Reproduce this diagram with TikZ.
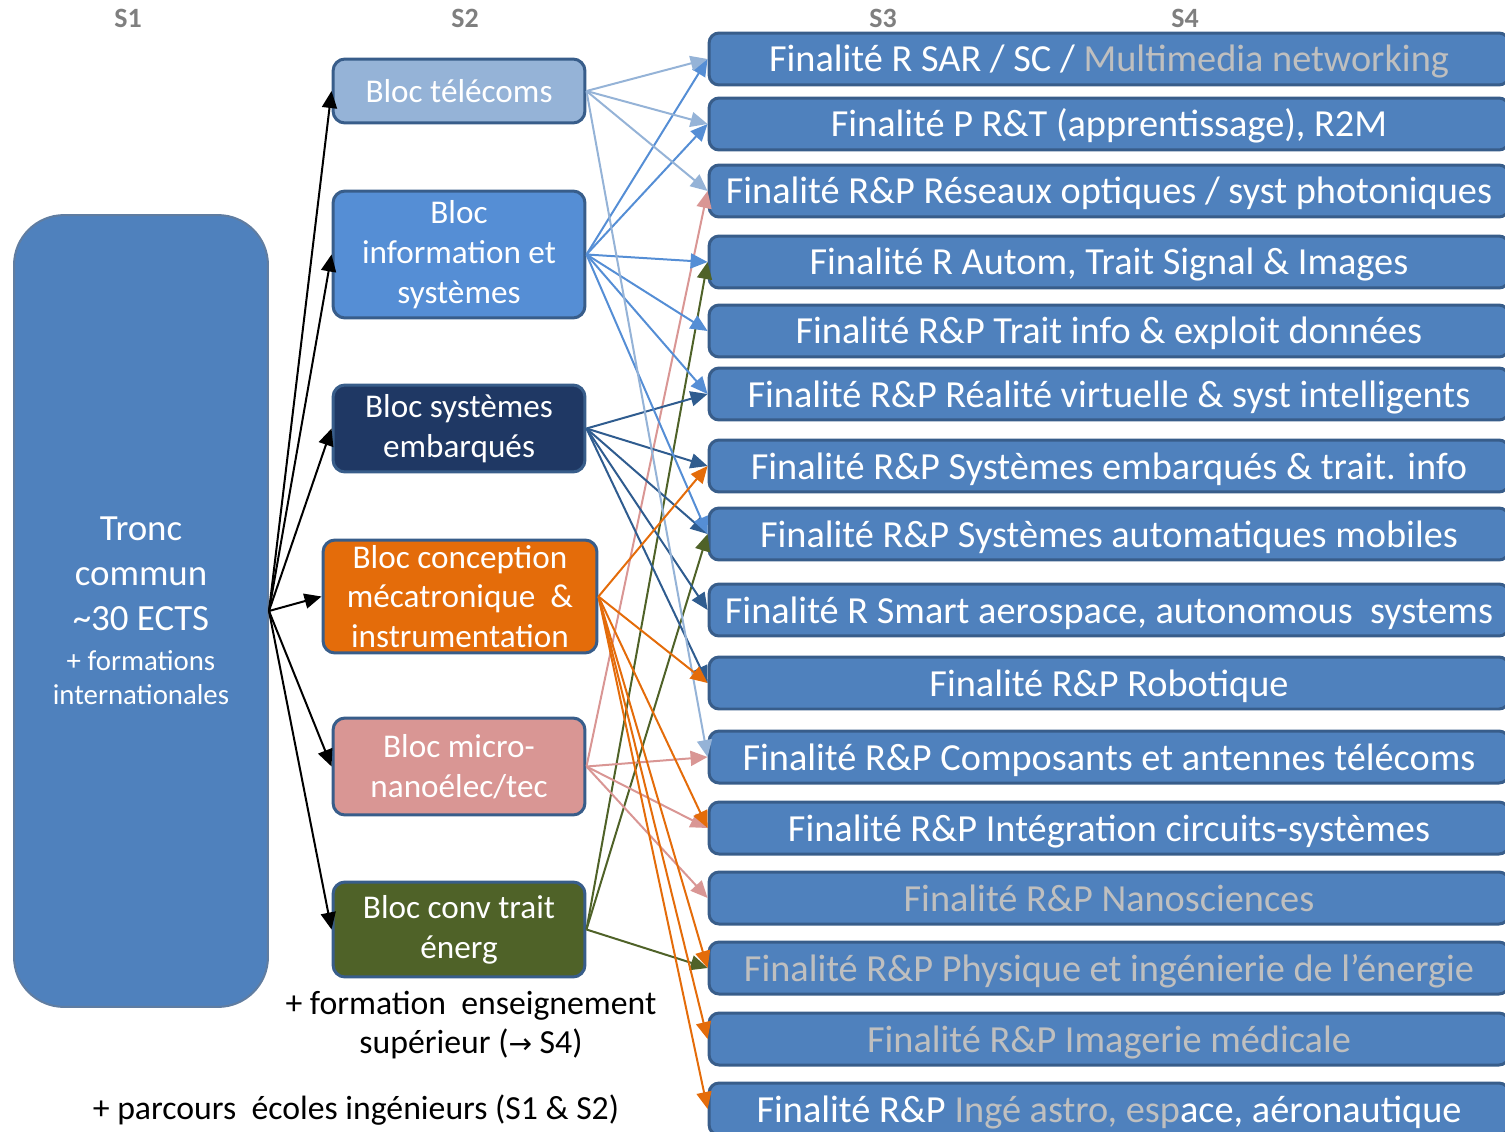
\documentclass[tikz,border=0pt]{standalone}
\usepackage{fontspec}
\setmainfont{Carlito}
\newfontfamily\flechefont{DejaVu Sans}
\usetikzlibrary{arrows.meta}

\definecolor{bleuF}{HTML}{4F81BD}
\definecolor{bordF}{HTML}{385D8A}
\definecolor{telecom}{HTML}{95B3D7}
\definecolor{info}{HTML}{558ED5}
\definecolor{embarq}{HTML}{1F3864}
\definecolor{embline}{HTML}{2F5C8F}
\definecolor{meca}{HTML}{E46C0A}
\definecolor{nano}{HTML}{D99694}
\definecolor{energ}{HTML}{4F6228}
\definecolor{grisT}{HTML}{BFBFBF}
\definecolor{grisS}{HTML}{7F7F7F}

\tikzset{
  bloc/.style={draw=bordF, line width=0.06cm, rounded corners=0.24cm, inner sep=0pt,
    text=white, align=center, font=\fontsize{18.9}{22.7}\selectfont},
  finalite/.style={draw=bordF, fill=bleuF, line width=0.06cm, rounded corners=0.2cm,
    inner sep=0pt, text=white, minimum width=16cm, minimum height=1.04cm,
    text height=0.56cm, text depth=0.04cm, font=\fontsize{21.8}{24}\selectfont},
  lien/.style={line width=0.04cm, -{Triangle[length=0.34cm,width=0.3cm]}},
  semestre/.style={text=grisS, font=\fontsize{15.9}{18}\selectfont\bfseries},
  legende/.style={align=center, font=\fontsize{19.2}{22.7}\selectfont}
}

\begin{document}
\begin{tikzpicture}[x=0.02cm, y=-0.02cm]
	\useasboundingbox (0,0) rectangle (1505,1132);
	\clip (0,0) rectangle (1505,1132);

	% semestres
	\node[semestre] (s1) at (128, 18) {S1};
	\node[semestre] (s2) at (465, 18) {S2};
	\node[semestre] (s3) at (883, 18) {S3};
	\node[semestre] (s4) at (1185, 18) {S4};

	% tronc commun
	\node[bloc, fill=bleuF, draw=bordF!80, line width=0.04cm, rounded corners=1cm,
		minimum width=5.08cm, minimum height=15.84cm, font=\fontsize{21}{25.5}\selectfont] (tronc) at (141, 611)
		{Tronc\\commun\\\textasciitilde30 ECTS\\[-2.8pt]{\fontsize{16.4}{20}\selectfont + formations}\\[-5.7pt]{\fontsize{16.4}{20}\selectfont internationales}};

	% blocs S2
	\node[bloc, fill=telecom, minimum width=5.04cm, minimum height=1.28cm] (telecoms) at (459, 91) {Bloc télécoms};
	\node[bloc, fill=info, minimum width=5.04cm, minimum height=2.54cm] (info) at (459, 254.5) {Bloc\\information et\\systèmes};
	\node[bloc, fill=embarq, minimum width=5.04cm, minimum height=1.74cm] (embarques) at (459, 428.5) {Bloc systèmes\\embarqués};
	\node[bloc, fill=meca, minimum width=5.48cm, minimum height=2.26cm] (meca) at (460, 596.5) {Bloc conception\\mécatronique \ \&\\instrumentation};
	\node[bloc, fill=nano, minimum width=5.04cm, minimum height=1.94cm] (nano) at (459, 766.5) {Bloc micro-\\nanoélec/tec};
	\node[bloc, fill=energ, minimum width=5.04cm, minimum height=1.9cm] (energ) at (459, 929.5) {Bloc conv trait\\énerg};

	\node[legende] (formation) at (471, 1025) {+ formation \ enseignement\\supérieur ({\flechefont\fontsize{16}{20}\selectfont →} S4)};
	\node[legende] (parcours) at (356, 1110) {+ parcours \ écoles ingénieurs (S1 \& S2)};

	% finalites S3 / S4
	\node[finalite] (sar) at (1109, 59) {Finalité R SAR / SC / \textcolor{grisT}{Multimedia networking}};
	\node[finalite] (rt) at (1109, 124) {Finalité P R\&T (apprentissage), R2M};
	\node[finalite] (optique) at (1109, 191) {Finalité R\&P Réseaux optiques / syst photoniques};
	\node[finalite] (autom) at (1109, 262) {Finalité R Autom, Trait Signal \& Images};
	\node[finalite] (traitinfo) at (1109, 331) {Finalité R\&P Trait info \& exploit données};
	\node[finalite] (realite) at (1109, 394) {Finalité R\&P Réalité virtuelle \& syst intelligents};
	\node[finalite] (sysemb) at (1109, 466) {Finalité R\&P Systèmes embarqués \& trait. info};
	\node[finalite] (sysauto) at (1109, 534) {Finalité R\&P Systèmes automatiques mobiles};
	\node[finalite] (aero) at (1109, 610) {Finalité R Smart aerospace, autonomous \ systems};
	\node[finalite] (robot) at (1109, 683) {Finalité R\&P Robotique};
	\node[finalite] (antennes) at (1109, 757) {Finalité R\&P Composants et antennes télécoms};
	\node[finalite] (integ) at (1109, 828) {Finalité R\&P Intégration circuits-systèmes};
	\node[finalite, text=grisT] (nanosci) at (1109, 898) {Finalité R\&P Nanosciences};
	\node[finalite, text=grisT] (energie) at (1109, 968) {Finalité R\&P Physique et ingénierie de l’énergie};
	\node[finalite, text=grisT] (imagerie) at (1109, 1039) {Finalité R\&P Imagerie médicale};
	\node[finalite] (astro) at (1109, 1109) {Finalité R\&P \textcolor{grisT}{Ingé astro, esp}ace, aéronautique};

	% tronc -> blocs
	\draw[lien] (tronc.east) -- (telecoms.west);
	\draw[lien] (tronc.east) -- (info.west);
	\draw[lien] (tronc.east) -- (embarques.west);
	\draw[lien] (tronc.east) -- (meca.west);
	\draw[lien] (tronc.east) -- (nano.west);
	\draw[lien] (tronc.east) -- (energ.west);

	% blocs -> finalites
	\draw[lien, energ] (energ.east) -- (autom.west);
	\draw[lien, energ] (energ.east) -- (sysauto.west);
	\draw[lien, energ] (energ.east) -- (energie.west);

	\draw[lien, nano] (nano.east) -- (optique.west);
	\draw[lien, nano] (nano.east) -- (antennes.west);
	\draw[lien, nano] (nano.east) -- (integ.west);
	\draw[lien, nano] (nano.east) -- (nanosci.west);

	\draw[lien, embline] (embarques.east) -- (realite.west);
	\draw[lien, embline] (embarques.east) -- (sysemb.west);
	\draw[lien, embline] (embarques.east) -- (sysauto.west);
	\draw[lien, embline] (embarques.east) -- (aero.west);
	\draw[lien, embline] (embarques.east) -- (robot.west);

	\draw[lien, info] (info.east) -- (sar.west);
	\draw[lien, info] (info.east) -- (rt.west);
	\draw[lien, info] (info.east) -- (autom.west);
	\draw[lien, info] (info.east) -- (traitinfo.west);
	\draw[lien, info] (info.east) -- (realite.west);
	\draw[lien, info] (info.east) -- (sysauto.west);

	\draw[lien, telecom] (telecoms.east) -- (sar.west);
	\draw[lien, telecom] (telecoms.east) -- (rt.west);
	\draw[lien, telecom] (telecoms.east) -- (optique.west);
	\draw[lien, telecom] (telecoms.east) -- (antennes.west);

	\draw[lien, meca] (meca.east) -- (sysemb.west);
	\draw[lien, meca] (meca.east) -- (robot.west);
	\draw[lien, meca] (meca.east) -- (integ.west);
	\draw[lien, meca] (meca.east) -- (energie.west);
	\draw[lien, meca] (meca.east) -- (imagerie.west);
	\draw[lien, meca] (meca.east) -- (astro.west);
\end{tikzpicture}
\end{document}
